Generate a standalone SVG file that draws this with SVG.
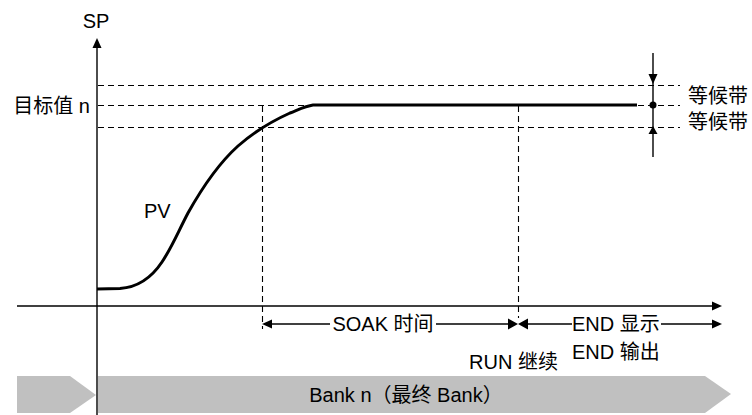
<svg xmlns="http://www.w3.org/2000/svg" width="752" height="415" viewBox="0 0 752 415">
<style>
text{font-family:"Liberation Sans","Noto Sans CJK SC",sans-serif;font-size:20px;fill:#000}
.ax{stroke:#000;stroke-width:1.4;fill:none}
.ds{stroke:#000;stroke-width:1.1;fill:none;stroke-dasharray:6 4}
.pv{stroke:#000;stroke-width:3;fill:none;stroke-linejoin:round}
.ah{fill:#000}
.bar{fill:#c0c0c0}
</style>
<rect width="752" height="415" fill="#fff"/>
<g id="bank-bar">
<polygon class="bar" points="17,376 70,376 96,395 70,413 17,413"/>
<polygon class="bar" points="98,376 705,376 731,394 705,413 98,413"/>
<text x="406" y="402" text-anchor="middle">Bank n（最终 Bank）</text>
</g>
<g id="connectors">
<line class="ds" x1="98" y1="85.5" x2="680" y2="85.5"/>
<line class="ds" x1="98" y1="105.5" x2="680" y2="105.5"/>
<line class="ds" x1="98" y1="127.5" x2="680" y2="127.5"/>
<line class="ds" x1="262.5" y1="106" x2="262.5" y2="329"/>
<line class="ds" x1="518.5" y1="106" x2="518.5" y2="318"/>
<line class="ax" x1="97" y1="415" x2="97" y2="46"/>
<polygon class="ah" points="97,38 92.5,48 101.5,48"/>
<line class="ax" x1="17" y1="306" x2="714" y2="306"/>
<polygon class="ah" points="722,306 712,301.5 712,310.5"/>
<line class="ax" x1="653" y1="53" x2="653" y2="157"/>
<polygon class="ah" points="653,84 648.5,74 657.5,74"/>
<polygon class="ah" points="653,126 648.5,134 657.5,134"/>
<circle class="ah" cx="653" cy="105" r="3.5"/>
<line class="ax" x1="268" y1="324" x2="330" y2="324"/>
<polygon class="ah" points="262,324 272,319.5 272,328.5"/>
<line class="ax" x1="436" y1="324" x2="510" y2="324"/>
<polygon class="ah" points="518,324 508,318.5 508,329.5"/>
<polygon class="ah" points="518,324 528,318.5 528,329.5"/>
<line class="ax" x1="526" y1="324" x2="572" y2="324"/>
<line class="ax" x1="661" y1="324" x2="714" y2="324"/>
<polygon class="ah" points="722,324 712,319.5 712,328.5"/>
</g>
<g id="pv-curve">
<path class="pv" d="M97,289 L120,288.5 C135,287.5 150,280 162,262 C172,247 178,232 188,213 C202,188 218,164 238,146 C254,132 270,122 290,113 C300,109 306,106 313,105 L637,105"/>
</g>
<g id="labels">
<text id="sp" x="96" y="28" text-anchor="middle">SP</text>
<text id="target" x="90" y="113" text-anchor="end">目标值 n</text>
<text id="pv" x="144" y="218">PV</text>
<text id="band1" x="688" y="103">等候带</text>
<text id="band2" x="688" y="129">等候带</text>
<text id="soak" x="383" y="331" text-anchor="middle">SOAK 时间</text>
<text id="enddisp" x="572" y="331">END 显示</text>
<text id="endout" x="572" y="359">END 输出</text>
<text id="run" x="558" y="369" text-anchor="end">RUN 继续</text>
</g>
</svg>
